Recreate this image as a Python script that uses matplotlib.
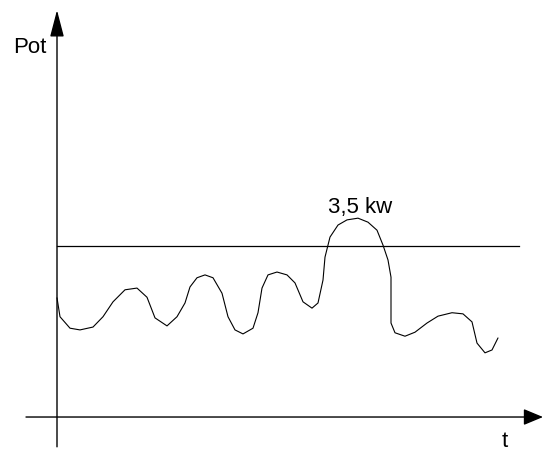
import matplotlib.pyplot as plt

plt.rcParams['font.family'] = ['Liberation Sans', 'DejaVu Sans']

# --- data: power over time (kW) ---
t = [0.0, 0.3, 1.3, 2.3, 3.6, 4.6, 5.6, 6.8, 8.0, 9.0, 9.8, 11.0, 12.0, 12.8,
     13.3, 14.0, 14.8, 15.6, 16.5, 17.1, 17.8, 18.6, 19.6, 20.1, 20.5, 21.1,
     22.0, 23.0, 23.8, 24.6, 25.5, 26.1, 26.6, 26.8, 27.3, 28.1, 29.0, 30.1,
     31.1, 32.0, 32.6, 33.1, 33.4, 33.4, 33.8, 34.8, 35.8, 37.0, 38.1, 39.5,
     40.6, 41.5, 42.0, 42.8, 43.5, 44.1]
pot = [2.08, 1.75, 1.55, 1.52, 1.57, 1.75, 2.01, 2.22, 2.25, 2.09, 1.73, 1.59,
       1.75, 1.99, 2.27, 2.43, 2.48, 2.43, 2.16, 1.75, 1.52, 1.45, 1.55, 1.82,
       2.25, 2.48, 2.53, 2.48, 2.34, 2.01, 1.90, 1.99, 2.39, 2.79, 3.14, 3.35,
       3.44, 3.47, 3.40, 3.26, 3.00, 2.74, 2.44, 1.64, 1.47, 1.41, 1.48, 1.64,
       1.76, 1.82, 1.80, 1.66, 1.29, 1.12, 1.17, 1.38]
threshold = 2.98
peak_label = "3,5 kw"

# axis extents (data units)
t_min, t_max = -3.1, 48.6
p_min, p_max = -0.52, 7.1
thr_end = 46.2

fig = plt.figure(figsize=(5.45, 4.51), dpi=100)
ax = fig.add_axes([0, 0, 1, 1])
ax.set_xlim(-5.7, 48.8)
ax.set_ylim(-0.593, 7.277)
ax.axis("off")

# axes with arrow heads
ax.annotate("", xy=(0, p_max), xytext=(0, p_min),
            arrowprops=dict(arrowstyle="-|>,head_length=1.65,head_width=0.43",
                            lw=1.0, color="black", shrinkA=0, shrinkB=0))
ax.annotate("", xy=(t_max, 0), xytext=(t_min, 0),
            arrowprops=dict(arrowstyle="-|>,head_length=1.2,head_width=0.5",
                            lw=1.0, color="black", shrinkA=0, shrinkB=0))

# threshold line and curve
ax.plot([0, thr_end], [threshold, threshold], color="black", lw=0.9)
ax.plot(t, pot, color="black", lw=0.8, solid_joinstyle="round",
        solid_capstyle="round")

# labels
ax.text(-2.7, 6.44, "Pot", fontsize=16, ha="center", va="center")
ax.text(30.3, 3.56, peak_label, fontsize=16, ha="center", va="baseline")
ax.text(44.8, -0.52, "t", fontsize=16, ha="center", va="baseline")

plt.savefig("out.png", dpi=100)
